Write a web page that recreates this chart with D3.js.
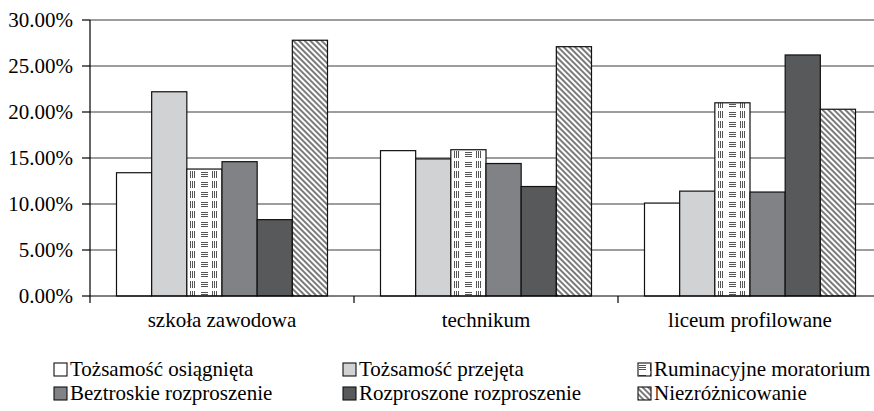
<!DOCTYPE html>
<html>
<head>
<meta charset="utf-8">
<script src="https://cdn.jsdelivr.net/npm/d3@7"></script>
</head>
<body style="margin:0">
<svg width="874" height="411"></svg>
<script>
// categories (school type) and series (identity status), values in %
const categories = ["szkoła zawodowa", "technikum", "liceum profilowane"];
const seriesNames = ["Tożsamość osiągnięta", "Tożsamość przejęta", "Ruminacyjne moratorium",
                     "Beztroskie rozproszenie", "Rozproszone rozproszenie", "Niezróżnicowanie"];
const osiagnieta  = [13.4, 15.8, 10.1];
const przejeta    = [22.2, 14.9, 11.4];
const ruminacyjne = [13.8, 15.9, 21.0];
const beztroskie  = [14.6, 14.4, 11.3];
const rozproszone = [8.3, 11.9, 26.2];
const niezroznic  = [27.8, 27.1, 20.3];
const yTicks = [0, 5, 10, 15, 20, 25, 30];

const seriesValues = [osiagnieta, przejeta, ruminacyjne, beztroskie, rozproszone, niezroznic];
const fills = ["#ffffff", "#d1d2d4", "url(#weave)", "#818285", "#58595b", "url(#hatch)"];

const svg = d3.select("svg");
const fs = 21;
const serif = "'Liberation Serif'";

// patterns
const defs = svg.append("defs");
const weave = defs.append("pattern").attr("id", "weave")
    .attr("patternUnits", "userSpaceOnUse").attr("width", 22).attr("height", 10);
weave.append("rect").attr("width", 22).attr("height", 10).attr("fill", "#fff");
[2, 4, 6].forEach(y => weave.append("line").attr("x1", 1).attr("x2", 8).attr("y1", y + 0.5).attr("y2", y + 0.5)
    .attr("stroke", "#555").attr("stroke-width", 1));
[12, 14, 16].forEach(x => weave.append("line").attr("x1", x + 0.5).attr("x2", x + 0.5).attr("y1", 1).attr("y2", 8)
    .attr("stroke", "#555").attr("stroke-width", 1));

const hatch = defs.append("pattern").attr("id", "hatch")
    .attr("patternUnits", "userSpaceOnUse").attr("width", 4).attr("height", 4)
    .attr("patternTransform", "rotate(45)");
hatch.append("rect").attr("width", 4).attr("height", 4).attr("fill", "#fff");
hatch.append("line").attr("x1", 0).attr("x2", 4).attr("y1", 1).attr("y2", 1)
    .attr("stroke", "#333").attr("stroke-width", 1.3);

// scales
const x0 = d3.scaleBand().domain(categories).range([90, 882]).paddingInner(0).paddingOuter(0);
const x1 = d3.scaleBand().domain(seriesNames).range([26.5, x0.bandwidth() - 26.5]);
const y = d3.scaleLinear().domain([0, 30]).range([296, 20]);

// gridlines
svg.append("g").selectAll("line").data(yTicks.filter(d => d > 0)).join("line")
    .attr("x1", 90).attr("x2", 874)
    .attr("y1", d => y(d)).attr("y2", d => y(d))
    .attr("stroke", "#3c3c3c").attr("stroke-width", 1.2);

// bars
const groups = svg.append("g").selectAll("g").data(categories).join("g")
    .attr("transform", d => `translate(${x0(d)},0)`);
groups.selectAll("rect")
    .data((c, ci) => seriesNames.map((s, si) => ({ s, si, v: seriesValues[si][ci] })))
    .join("rect")
    .attr("x", d => x1(d.s))
    .attr("width", x1.bandwidth())
    .attr("y", d => y(d.v))
    .attr("height", d => y(0) - y(d.v))
    .attr("fill", d => fills[d.si])
    .attr("stroke", "#111").attr("stroke-width", 1.2);

// y axis
svg.append("line").attr("x1", 90).attr("x2", 90).attr("y1", 20).attr("y2", 303)
    .attr("stroke", "#000").attr("stroke-width", 1.2);
svg.append("g").selectAll("line").data(yTicks).join("line")
    .attr("x1", 82).attr("x2", 90).attr("y1", d => y(d)).attr("y2", d => y(d))
    .attr("stroke", "#000").attr("stroke-width", 1.2);
svg.append("g").selectAll("text").data(yTicks).join("text")
    .attr("x", 73).attr("y", d => y(d) + 7)
    .attr("text-anchor", "end")
    .attr("font-family", serif).attr("font-size", fs)
    .text(d => d.toFixed(2) + "%");

// x axis
svg.append("line").attr("x1", 90).attr("x2", 874).attr("y1", 296).attr("y2", 296)
    .attr("stroke", "#000").attr("stroke-width", 1.2);
svg.append("g").selectAll("line").data(categories.slice(1)).join("line")
    .attr("x1", d => x0(d)).attr("x2", d => x0(d)).attr("y1", 296).attr("y2", 303)
    .attr("stroke", "#000").attr("stroke-width", 1.2);
svg.append("g").selectAll("text").data(categories).join("text")
    .attr("x", d => x0(d) + x0.bandwidth() / 2).attr("y", 327)
    .attr("text-anchor", "middle")
    .attr("font-family", serif).attr("font-size", fs)
    .text(d => d);

// legend
const legX = [54, 343, 638], legY = [363, 387];
const leg = svg.append("g").selectAll("g").data(seriesNames).join("g")
    .attr("transform", (d, i) => `translate(${legX[i % 3]},${legY[Math.floor(i / 3)]})`);
leg.append("rect").attr("width", 13).attr("height", 13)
    .attr("fill", (d, i) => fills[i]).attr("stroke", "#111").attr("stroke-width", 1.1);
leg.append("text")
    .attr("x", 16).attr("y", 13)
    .attr("font-family", serif).attr("font-size", fs)
    .text(d => d);
</script>
</body>
</html>
